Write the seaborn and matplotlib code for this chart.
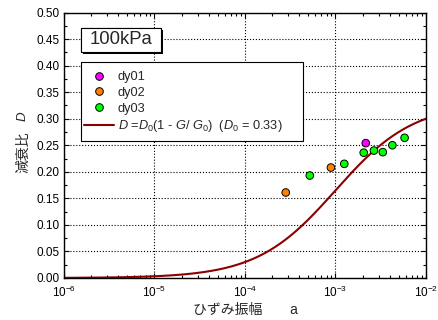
import numpy as np
import pandas as pd
import matplotlib
matplotlib.use("Agg")
import matplotlib.pyplot as plt
import matplotlib.ticker as mticker
import matplotlib.patheffects as pe
from matplotlib.lines import Line2D
from matplotlib.patches import Rectangle
import seaborn as sns

# measured points (strain amplitude, damping ratio)
dy01_strain = [2.16e-3]
dy01_damping = [0.254]
dy02_strain = [2.82e-4, 8.9e-4]
dy02_damping = [0.161, 0.208]
dy03_strain = [5.2e-4, 1.25e-3, 2.05e-3, 2.66e-3, 3.33e-3, 4.25e-3, 5.8e-3]
dy03_damping = [0.193, 0.215, 0.236, 0.240, 0.237, 0.250, 0.264]

# model parameters shown in the legend: D = D0 (1 - G/G0), hyperbolic G/G0
D0 = 0.33
gamma_r = 1e-3

series_colors = {"dy01": "#FF00FF", "dy02": "#FF8000", "dy03": "#00FF00"}

sns.set_style("ticks")
plt.rcParams['font.family'] = ['Liberation Sans', 'Noto Sans CJK JP']
plt.rcParams['mathtext.fontset'] = 'custom'
plt.rcParams['mathtext.rm'] = 'Liberation Sans'
plt.rcParams['mathtext.it'] = 'Liberation Sans:italic'

df = pd.DataFrame({
    "strain": dy01_strain + dy02_strain + dy03_strain,
    "damping": dy01_damping + dy02_damping + dy03_damping,
    "case": ["dy01"] * len(dy01_strain) + ["dy02"] * len(dy02_strain) + ["dy03"] * len(dy03_strain),
})

gamma = np.logspace(-6, -2, 400)
ratio = gamma / gamma_r
D_curve = D0 * ratio / (1 + ratio)

fig = plt.figure(figsize=(4.39, 3.20), dpi=100)
ax = fig.add_axes([64 / 439, 42 / 320, 362 / 439, 265.5 / 320])

sns.lineplot(x=gamma, y=D_curve, color="#8B0000", lw=1.5, ax=ax, zorder=2)
sns.scatterplot(data=df, x="strain", y="damping", hue="case", palette=series_colors,
                edgecolor="black", linewidth=0.7, s=30, ax=ax, zorder=3, legend=False)

ax.set_xscale("log")
ax.set_xlim(1e-6, 1e-2)
ax.set_ylim(0, 0.5)
ax.yaxis.set_major_locator(mticker.MultipleLocator(0.05))
ax.yaxis.set_minor_locator(mticker.MultipleLocator(0.025))
ax.yaxis.set_major_formatter(mticker.FormatStrFormatter("%.2f"))
ax.xaxis.set_major_locator(mticker.LogLocator(base=10, numticks=10))
ax.xaxis.set_minor_locator(mticker.LogLocator(base=10, subs=np.arange(2, 10), numticks=10))
ax.xaxis.set_minor_formatter(mticker.NullFormatter())

ax.tick_params(which="both", direction="in", top=True, right=True, labelsize=8.5, colors="black")
ax.tick_params(which="major", length=3.5, width=0.8)
ax.tick_params(which="minor", length=2, width=0.8)
ax.tick_params(axis="x", pad=5)
ax.tick_params(axis="y", pad=3)
for sp in ax.spines.values():
    sp.set_linewidth(1.0)
    sp.set_color("black")

ax.grid(True, which="major", ls=":", color="black", lw=0.8)
ax.set_axisbelow(True)

ax.set_xlabel("ひずみ振幅　　a", fontsize=10, labelpad=2)
ax.set_ylabel("")
fig.text(23 / 439, 1 - 152 / 320, "減衰比", rotation=90, ha="center", va="center", fontsize=10)
fig.text(23 / 439, 1 - 116 / 320, "$D$", rotation=90, ha="center", va="center", fontsize=9.5)

# legend frame drawn separately so the box size matches
frame = Rectangle(((81 - 64) / 362, (278 - 141) / 265.5), 222 / 362, 79 / 265.5,
                  transform=ax.transAxes, fc="white", ec="black", lw=0.8, zorder=4)
ax.add_patch(frame)

handles = [Line2D([], [], ls="", marker="o", ms=5.5, mfc=series_colors[k], mec="black", mew=0.7)
           for k in ["dy01", "dy02", "dy03"]]
handles.append(Line2D([], [], color="#8B0000", lw=1.5))
labels = ["dy01", "dy02", "dy03",
          r"$D$ =$D_\mathit{0}$(1 - $G$/ $G_\mathit{0}$)  ($D_\mathit{0}$ = 0.33)"]
leg = ax.legend(handles, labels, loc="upper left",
                bbox_to_anchor=((84 - 64) / 362, (278 - 71) / 265.5),
                fontsize=9.2, frameon=False, labelspacing=0.3, handlelength=2.35,
                handletextpad=0.3, borderpad=0, borderaxespad=0)
leg.set_zorder(5)

# title box with shadow
box = Rectangle(((81 - 64) / 362, (278 - 52) / 265.5), 80 / 362, 24 / 265.5,
                transform=ax.transAxes, fc="white", ec="black", lw=0.8, zorder=5)
box.set_path_effects([pe.withSimplePatchShadow(offset=(1.6, -1.6), shadow_rgbFace="black", alpha=1.0),
                      pe.Normal()])
ax.add_patch(box)
ax.text((121 - 64) / 362, (278 - 40) / 265.5, "100kPa", transform=ax.transAxes,
        ha="center", va="center", fontsize=13.3, zorder=6)

fig.savefig("out.png", dpi=100)
